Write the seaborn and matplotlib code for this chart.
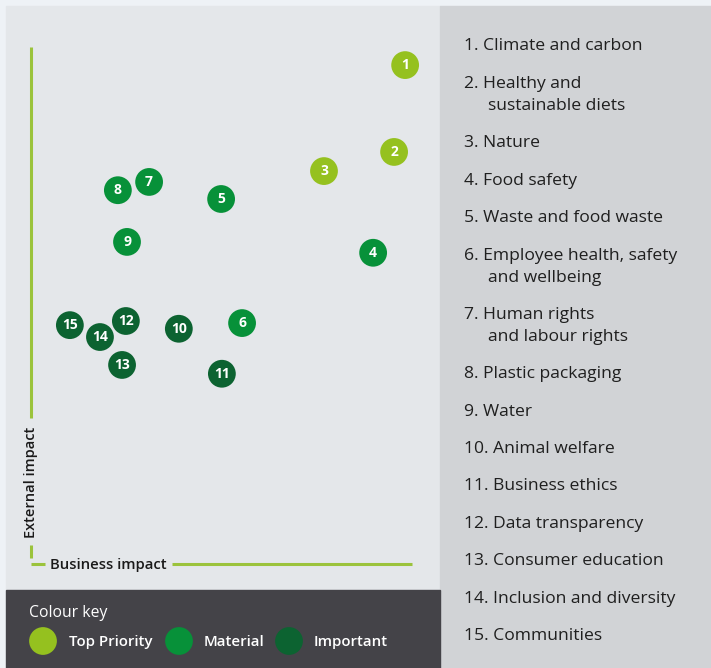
import matplotlib
matplotlib.use("Agg")
import matplotlib.pyplot as plt
import seaborn as sns
import pandas as pd
from matplotlib.patches import Rectangle

# ---- data ----
ids = [1, 2, 3, 4, 5, 6, 7, 8, 9, 10, 11, 12, 13, 14, 15]
business_impact = [9.82, 9.53, 7.69, 8.98, 4.99, 5.54, 3.10, 2.28, 2.52, 3.88, 5.01, 2.49, 2.39, 1.81, 1.02]
external_impact = [9.65, 7.97, 7.60, 6.02, 7.06, 4.66, 7.39, 7.23, 6.23, 4.55, 3.68, 4.70, 3.85, 4.39, 4.62]
priority = ["Top Priority", "Top Priority", "Top Priority", "Material", "Material", "Material",
            "Material", "Material", "Material", "Important", "Important", "Important",
            "Important", "Important", "Important"]
topics = [
    "1. Climate and carbon",
    "2. Healthy and\nsustainable diets",
    "3. Nature",
    "4. Food safety",
    "5. Waste and food waste",
    "6. Employee health, safety\nand wellbeing",
    "7. Human rights\nand labour rights",
    "8. Plastic packaging",
    "9. Water",
    "10. Animal welfare",
    "11. Business ethics",
    "12. Data transparency",
    "13. Consumer education",
    "14. Inclusion and diversity",
    "15. Communities",
]
categories = ["Top Priority", "Material", "Important"]
colors = ["#95c11f", "#079139", "#0c6331"]

df = pd.DataFrame({"id": ids, "x": business_impact, "y": external_impact, "priority": priority})

W, H = 711, 668
fig = plt.figure(figsize=(W / 100, H / 100), dpi=100)
fig.patch.set_facecolor("#eef2f6")
FONT = ["Open Sans", "DejaVu Sans"]

# background overlay in pixel coordinates
bg = fig.add_axes([0, 0, 1, 1])
bg.set_xlim(0, W)
bg.set_ylim(H, 0)
bg.axis("off")
bg.add_patch(Rectangle((6, 6), 434, 584, color="#e4e7ea", zorder=0))
bg.add_patch(Rectangle((440, 6), 271, 662, color="#d1d3d6", zorder=0))
bg.add_patch(Rectangle((6, 590), 434, 78, color="#444348", zorder=0))

# axis lines (decoration)
green = "#9bc33c"
bg.plot([31, 31], [47, 418], color=green, lw=2.2, solid_capstyle="butt")
bg.plot([31, 31], [545, 558], color=green, lw=2.2, solid_capstyle="butt")
bg.plot([31, 45], [564, 564], color=green, lw=2.2, solid_capstyle="butt")
bg.plot([172, 412], [564, 564], color=green, lw=2.2, solid_capstyle="butt")
bg.text(31, 482, "External impact", rotation=90, ha="center", va="center",
        fontsize=10.5, fontweight="semibold", color="#1a1a1a", family=FONT)
bg.text(50, 565.5, "Business impact", ha="left", va="center",
        fontsize=10.7, fontweight="semibold", color="#1a1a1a", family=FONT)

# topic list
ty = 46.5
for t in topics:
    lines = t.split("\n")
    for k, ln in enumerate(lines):
        bg.text(464 if k == 0 else 488, ty + k * 22, ln, ha="left", va="center",
                fontsize=12.6, color="#1f1f1f", family=FONT)
    ty += 37.4 + 22 * (len(lines) - 1)

# colour key
bg.text(29, 613, "Colour key", ha="left", va="center", fontsize=11.3,
        color="white", family=FONT)
for cx, tx, lab, c in zip([43, 179, 289], [69, 204, 314], categories, colors):
    bg.scatter([cx], [641], s=400, color=c, edgecolor="none")
    bg.text(tx, 642, lab, ha="left", va="center", fontsize=10.8, fontweight="semibold",
            color="white", family=FONT)

# main scatter
ax = fig.add_axes([31 / W, 1 - 564 / H, (412 - 31) / W, (564 - 47) / H])
ax.set_facecolor("none")
sns.scatterplot(data=df, x="x", y="y", hue="priority", hue_order=categories,
                palette=colors, s=400, edgecolor="none", legend=False, ax=ax,
                zorder=3, clip_on=False)
for _, r in df.iterrows():
    ax.text(r["x"], r["y"], str(r["id"]), ha="center", va="center", color="white",
            fontsize=10, fontweight="bold", family=FONT, zorder=4)
ax.set_xlim(0, 10)
ax.set_ylim(0, 10)
ax.axis("off")

fig.savefig("out.png", dpi=100)
